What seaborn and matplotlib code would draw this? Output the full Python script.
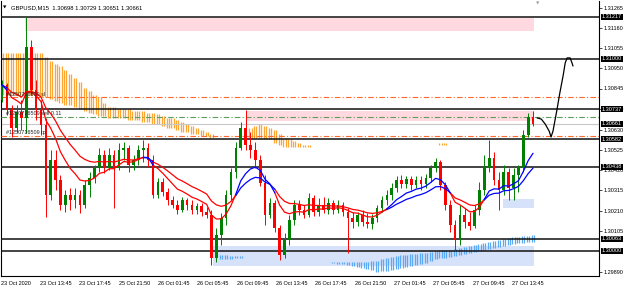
import numpy as np
import pandas as pd
import matplotlib
matplotlib.use("Agg")
import matplotlib.pyplot as plt
import matplotlib.transforms as mtransforms
from matplotlib.patches import Rectangle
import seaborn as sns

# ---------------- data ----------------
title_text = "GBPUSD,M15  1.30698 1.30729 1.30651 1.30661"
first_open = 1.30785
close = [1.30863, 1.30733, 1.30640, 1.30723, 1.30692, 1.31061, 1.30837, 1.30733, 1.30655, 1.30291,
         1.30473, 1.30369, 1.30239, 1.30291, 1.30265, 1.30291, 1.30239, 1.30343, 1.30380, 1.30432,
         1.30499, 1.30432, 1.30499, 1.30432, 1.30525, 1.30536, 1.30447, 1.30473, 1.30525, 1.30536,
         1.30473, 1.30291, 1.30359, 1.30307, 1.30265, 1.30239, 1.30213, 1.30265, 1.30239, 1.30213,
         1.30234, 1.30203, 1.30187, 1.29964, 1.30083, 1.30172, 1.30291, 1.30411, 1.30536, 1.30640,
         1.30551, 1.30525, 1.30473, 1.30354, 1.30187, 1.30250, 1.30120, 1.29979, 1.30057, 1.30161,
         1.30239, 1.30213, 1.30187, 1.30276, 1.30203, 1.30239, 1.30213, 1.30250, 1.30213, 1.30239,
         1.30203, 1.30172, 1.30151, 1.30187, 1.30151, 1.30140, 1.30172, 1.30224, 1.30265, 1.30291,
         1.30328, 1.30369, 1.30348, 1.30374, 1.30343, 1.30369, 1.30348, 1.30380, 1.30432, 1.30463,
         1.30343, 1.30239, 1.30135, 1.30057, 1.30187, 1.30151, 1.30130, 1.30213, 1.30317, 1.30432,
         1.30484, 1.30369, 1.30317, 1.30411, 1.30328, 1.30395, 1.30432, 1.30603, 1.30697, 1.30661]
high = [1.30889, 1.30874, 1.30759, 1.30759, 1.30785, 1.31217, 1.31097, 1.30889, 1.30785, 1.30692,
        1.30525, 1.30525, 1.30395, 1.30317, 1.30328, 1.30328, 1.30317, 1.30369, 1.30411, 1.30447,
        1.30536, 1.30525, 1.30536, 1.30525, 1.30562, 1.30567, 1.30551, 1.30499, 1.30551, 1.30577,
        1.30562, 1.30499, 1.30380, 1.30380, 1.30328, 1.30286, 1.30265, 1.30281, 1.30276, 1.30265,
        1.30250, 1.30250, 1.30229, 1.30213, 1.30120, 1.30198, 1.30317, 1.30432, 1.30567, 1.30671,
        1.30733, 1.30619, 1.30567, 1.30499, 1.30395, 1.30276, 1.30265, 1.30135, 1.30094, 1.30187,
        1.30265, 1.30265, 1.30239, 1.30302, 1.30291, 1.30276, 1.30281, 1.30276, 1.30265, 1.30265,
        1.30255, 1.30224, 1.30203, 1.30203, 1.30213, 1.30198, 1.30192, 1.30239, 1.30286, 1.30317,
        1.30354, 1.30390, 1.30395, 1.30390, 1.30390, 1.30390, 1.30390, 1.30400, 1.30447, 1.30484,
        1.30473, 1.30359, 1.30265, 1.30161, 1.30239, 1.30224, 1.30203, 1.30239, 1.30359, 1.30499,
        1.30577, 1.30515, 1.30411, 1.30447, 1.30432, 1.30432, 1.30447, 1.30629, 1.30718, 1.30729]
low = [1.30775, 1.30707, 1.30593, 1.30619, 1.30629, 1.30614, 1.30811, 1.30681, 1.30603, 1.30177,
       1.30265, 1.30317, 1.30213, 1.30203, 1.30213, 1.30224, 1.30198, 1.30224, 1.30281, 1.30354,
       1.30411, 1.30406, 1.30421, 1.30224, 1.30421, 1.30473, 1.30411, 1.30421, 1.30447, 1.30463,
       1.30437, 1.30276, 1.30276, 1.30286, 1.30239, 1.30224, 1.30192, 1.30203, 1.30213, 1.30192,
       1.30192, 1.30182, 1.30172, 1.29927, 1.29943, 1.30031, 1.30135, 1.30265, 1.30380, 1.30525,
       1.30525, 1.30484, 1.30432, 1.30338, 1.30135, 1.30172, 1.30099, 1.29953, 1.29964, 1.30031,
       1.30135, 1.30187, 1.30172, 1.30177, 1.30182, 1.30182, 1.30198, 1.30192, 1.30192, 1.30198,
       1.30182, 1.29990, 1.30120, 1.30130, 1.30130, 1.30120, 1.30114, 1.30151, 1.30203, 1.30239,
       1.30265, 1.30307, 1.30328, 1.30328, 1.30317, 1.30328, 1.30317, 1.30328, 1.30359, 1.30411,
       1.30317, 1.30213, 1.30099, 1.30005, 1.30031, 1.30120, 1.30109, 1.30120, 1.30187, 1.30291,
       1.30411, 1.30343, 1.30213, 1.30291, 1.30265, 1.30265, 1.30307, 1.30411, 1.30593, 1.30651]

# orange indicator band (bar index -> top / bottom)
orange_idx = list(range(0, 44)) + list(range(51, 65)) + [90, 91]
orange_top = [1.3103, 1.3103, 1.3103, 1.3103, 1.3103, 1.3103, 1.3103, 1.3103, 1.3103,
              1.3101, 1.3099, 1.3097, 1.3096, 1.3094, 1.3092, 1.3090, 1.3088, 1.3085, 1.3083,
              1.3081, 1.3080, 1.3077, 1.3075, 1.3075, 1.3074, 1.3074, 1.3074, 1.3073, 1.3073,
              1.3073, 1.3072, 1.3072, 1.3071, 1.3070, 1.3069, 1.3069, 1.3068, 1.3067, 1.3066,
              1.3065, 1.3064, 1.3063, 1.3062, 1.3061,
              1.3064, 1.3065, 1.3066, 1.3065, 1.3064, 1.3063, 1.3061, 1.3059, 1.3058, 1.3057,
              1.3056, 1.3055, 1.3055, 1.3054,
              1.3056, 1.3056]
orange_bot = [1.3081, 1.3081, 1.3081, 1.3081, 1.3081, 1.3081, 1.3081, 1.3081, 1.3080,
              1.3080, 1.3079, 1.3078, 1.3077, 1.3076, 1.3076, 1.3075, 1.3074, 1.3073, 1.3072,
              1.3071, 1.3070, 1.3070, 1.3069, 1.3069, 1.3069, 1.3069, 1.3068, 1.3068, 1.3068,
              1.3067, 1.3067, 1.3066, 1.3066, 1.3065, 1.3064, 1.3064, 1.3063, 1.3062, 1.3062,
              1.3061, 1.3061, 1.3060, 1.3060, 1.3059,
              1.3059, 1.3059, 1.3059, 1.3058, 1.3058, 1.3056, 1.3055, 1.3054, 1.3054, 1.3054,
              1.3054, 1.3054, 1.3054, 1.3054,
              1.3055, 1.3055]

# blue indicator band
blue_idx = list(range(45, 50)) + list(range(68, 110))
blue_top = [1.29979, 1.29979, 1.29974, 1.29974, 1.29974,
            1.29943, 1.29943, 1.29943, 1.29943, 1.29943, 1.29943, 1.29943, 1.29943, 1.29948, 1.29948,
            1.29958, 1.29964, 1.29969, 1.29974, 1.29979, 1.29979, 1.29984, 1.29984, 1.29990, 1.29990,
            1.29995, 1.30000, 1.30005, 1.30005, 1.30005, 1.30010, 1.30016, 1.30021, 1.30026, 1.30031,
            1.30036, 1.30042, 1.30047, 1.30052, 1.30057, 1.30062, 1.30068, 1.30073, 1.30073, 1.30078,
            1.30078, 1.30083]
blue_bot = [1.29958, 1.29958, 1.29958, 1.29964, 1.29964,
            1.29938, 1.29932, 1.29932, 1.29927, 1.29922, 1.29917, 1.29912, 1.29906, 1.29901, 1.29891,
            1.29896, 1.29896, 1.29901, 1.29906, 1.29912, 1.29917, 1.29922, 1.29927, 1.29932, 1.29938,
            1.29948, 1.29958, 1.29964, 1.29964, 1.29969, 1.29974, 1.29979, 1.29984, 1.29990, 1.29995,
            1.30000, 1.30005, 1.30010, 1.30016, 1.30021, 1.30026, 1.30031, 1.30036, 1.30042, 1.30042,
            1.30047, 1.30047]

level_lines = [1.31217, 1.31000, 1.30737, 1.30582, 1.30438, 1.30063, 1.30000]
boxed_prices = [1.31217, 1.31000, 1.30737, 1.30661, 1.30582, 1.30438, 1.30063, 1.30000]
axis_ticks = [1.31265, 1.31160, 1.31055, 1.30950, 1.30845, 1.30740, 1.30630, 1.30525,
              1.30420, 1.30315, 1.30210, 1.30105, 1.29890]
order_prices = [1.30800, 1.30697, 1.30600]
order_labels = ["#1250716509 sl", "#1250716509 sell 0.11", "#1250716509 tp"]
bid_price = 1.30661

zone_k0 = [4.7, 50.3, 43.3, 102.9]
zone_k1 = [109.1, 109.1, 109.1, 109.1]
zone_lo = [1.31144, 1.30676, 1.29922, 1.30224]
zone_hi = [1.31212, 1.30728, 1.30026, 1.30270]

time_labels = ["23 Oct 2020", "23 Oct 13:45", "23 Oct 17:45", "25 Oct 21:50", "26 Oct 01:45",
               "26 Oct 05:45", "26 Oct 09:45", "26 Oct 13:45", "26 Oct 17:45", "26 Oct 21:50",
               "27 Oct 01:45", "27 Oct 05:45", "27 Oct 09:45", "27 Oct 13:45"]
time_tick_k = [-0.2, 7.9, 15.9, 24.0, 32.1, 40.1, 48.2, 56.3, 64.3, 72.4, 80.5, 88.5, 96.6, 104.7]

arrow_k = [109.85, 110.7, 111.5, 112.3, 112.7, 113.1, 113.9, 114.5, 115.2, 115.6, 116.0, 116.6, 117.0, 117.2]
arrow_p = [1.30692, 1.30686, 1.30660, 1.30624, 1.30593, 1.30624, 1.30733, 1.30822, 1.30915,
           1.30978, 1.31004, 1.31004, 1.30978, 1.30962]

# ---------------- style ----------------
sns.set_style("white")
plt.rcParams["font.family"] = ["Liberation Sans", "DejaVu Sans"]

W, H = 625, 289
fig = plt.figure(figsize=(W / 100, H / 100), dpi=100)
ax = fig.add_axes([1 / W, 13 / H, 598 / W, 275 / H])
ax.set_xlim(-0.205, 122.54)
ax.set_ylim(1.29870, 1.31300)

n = len(close)
kk = np.arange(n)
opens = np.array([first_open] + close[:-1])
cl = np.array(close)

# zones
zcolors = ["#ffd9df", "#ffd9df", "#d6e1fa", "#d6e1fa"]
for a, b, lo, hi, c in zip(zone_k0, zone_k1, zone_lo, zone_hi, zcolors):
    ax.add_patch(Rectangle((a, lo), b - a, hi - lo, fc=c, ec="none", zorder=1))

# indicator hatches
ok = np.array(orange_idx, float)
ax.vlines(np.concatenate([ok - 0.22, ok + 0.22]), np.tile(orange_bot, 2), np.tile(orange_top, 2),
          colors="#ffa632", lw=0.9, zorder=2)
bk = np.array(blue_idx, float)
ax.vlines(np.concatenate([bk - 0.22, bk + 0.22]), np.tile(blue_bot, 2), np.tile(blue_top, 2),
          colors="#5aa9f5", lw=0.9, zorder=2)

# bid line and levels
ax.axhline(bid_price, color="#c8c8c8", lw=0.8, zorder=2)
for p in level_lines:
    ax.axhline(p, color="#111111", lw=1.1, zorder=3)
ocolors = ["#ff6a2a", "#5a9e5a", "#ff6a2a"]
for p, lab, c in zip(order_prices, order_labels, ocolors):
    ax.axhline(p, color=c, lw=0.8, ls=(0, (5, 2, 1, 2)), zorder=3)
    ax.text(0.9, p + 0.00003, lab, fontsize=4, color="#222222", ha="left", va="bottom", zorder=7)

# candles
bull = cl >= opens
ccol = np.where(bull, "#008000", "#ff0000")
ax.vlines(kk, low, high, colors=ccol, lw=0.7, zorder=4)
bottoms = np.minimum(opens, cl)
heights = np.maximum(np.abs(cl - opens), 0.00003)
ax.bar(kk, heights, bottom=bottoms, width=0.55, color=ccol, edgecolor="none", zorder=4)

# moving averages coloured by trend
fast = pd.Series(close).ewm(span=9, adjust=False).mean().values
slow = pd.Series(close).ewm(span=17, adjust=False).mean().values
up = fast >= slow
rows = []
seg = 0
i = 0
while i < n:
    j = i
    while j + 1 < n and up[j + 1] == up[i]:
        j += 1
    end = min(j + 1, n - 1)
    for name, arr in (("fast", fast), ("slow", slow)):
        for t in range(i, end + 1):
            rows.append({"k": t, "val": arr[t], "unit": f"{name}{seg}", "trend": "up" if up[i] else "down"})
    seg += 1
    i = j + 1
ma = pd.DataFrame(rows)
for trend, col in (("down", "#ff0000"), ("up", "#0000ff")):
    sub = ma[ma.trend == trend]
    if len(sub):
        sns.lineplot(data=sub, x="k", y="val", units="unit", estimator=None, color=col,
                     lw=0.9, ax=ax, legend=False, sort=False, zorder=5)

# arrow drawing
ax.plot(arrow_k, arrow_p, color="black", lw=0.9, zorder=6, solid_capstyle="round")

# axes
ax.set_xlabel("")
ax.set_ylabel("")
for s in ["left", "bottom", "right"]:
    ax.spines[s].set_color("black")
    ax.spines[s].set_linewidth(0.8)
ax.spines["top"].set_visible(False)
ax.yaxis.tick_right()
ax.set_yticks(axis_ticks)
ax.set_yticklabels([f"{v:.5f}" for v in axis_ticks])
ax.tick_params(axis="y", labelsize=4, length=2.2, width=0.5, pad=1, colors="black")
ax.set_xticks(time_tick_k)
ax.set_xticklabels(time_labels, ha="left")
ax.tick_params(axis="x", labelsize=4, length=2.2, width=0.5, pad=1.5, colors="black")

trans = mtransforms.blended_transform_factory(ax.transAxes, ax.transData)
for p in boxed_prices:
    ax.text(1.0 + 3 / 598, p, f"{p:.5f}", transform=trans, ha="left", va="center", fontsize=4,
            color="white", bbox=dict(boxstyle="square,pad=0.12", fc="black", ec="none"),
            clip_on=False, zorder=10)

ax.text(0.004, 0.975, "\u25bc", transform=ax.transAxes, fontsize=3.2, color="black",
        ha="left", va="center", family=["DejaVu Sans"])
ax.text(0.016, 0.975, title_text, transform=ax.transAxes, fontsize=4.2, color="black",
        ha="left", va="center")
ax.text((538 - 1) / 598, 0.992, "\u25bc", transform=ax.transAxes, fontsize=3.2, color="#a0a0a0",
        ha="center", va="center", family=["DejaVu Sans"])

fig.savefig("out.png", dpi=100)
